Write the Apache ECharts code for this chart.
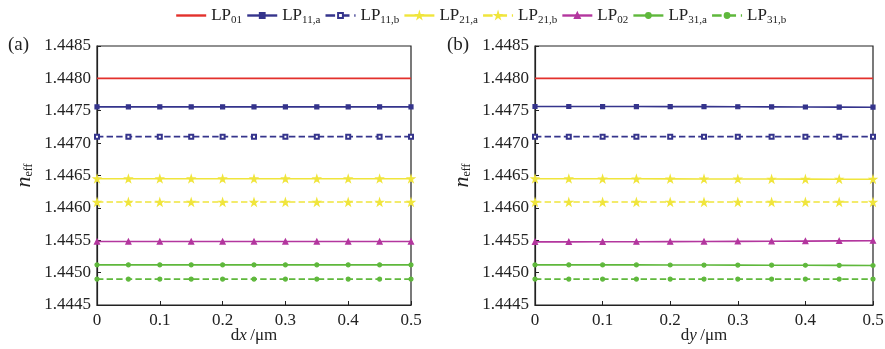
<!DOCTYPE html>
<html>
<head>
<meta charset="utf-8">
<script src="https://cdn.jsdelivr.net/npm/echarts@6/dist/echarts.min.js"></script>
<style>
  html, body { margin: 0; padding: 0; background: #fff; }
  #main { width: 885px; height: 349px; }
</style>
</head>
<body>
<div id="main"></div>
<script>
// offsets dx / dy (um)
var shift = [0, 0.05, 0.1, 0.15, 0.2, 0.25, 0.3, 0.35, 0.4, 0.45, 0.5];
var xTicks = ['0', '0.1', '0.2', '0.3', '0.4', '0.5'];
var modes = ['LP01', 'LP11,a', 'LP11,b', 'LP21,a', 'LP21,b', 'LP02', 'LP31,a', 'LP31,b'];

// panel (a): n_eff vs dx
var a_LP01  = [1.44800, 1.44800, 1.44800, 1.44800, 1.44800, 1.44800, 1.44800, 1.44800, 1.44800, 1.44800, 1.44800];
var a_LP11a = [1.44756, 1.44756, 1.44756, 1.44756, 1.44756, 1.44756, 1.44756, 1.44756, 1.44756, 1.44756, 1.44756];
var a_LP11b = [1.44710, 1.44710, 1.44710, 1.44710, 1.44710, 1.44710, 1.44710, 1.44710, 1.44710, 1.44710, 1.44710];
var a_LP21a = [1.44645, 1.44645, 1.44645, 1.44645, 1.44645, 1.44645, 1.44645, 1.44645, 1.44645, 1.44645, 1.44645];
var a_LP21b = [1.44609, 1.44609, 1.44609, 1.44609, 1.44609, 1.44609, 1.44609, 1.44609, 1.44609, 1.44609, 1.44609];
var a_LP02  = [1.44548, 1.44548, 1.44548, 1.44548, 1.44548, 1.44548, 1.44548, 1.44548, 1.44548, 1.44548, 1.44548];
var a_LP31a = [1.44512, 1.44512, 1.44512, 1.44512, 1.44512, 1.44512, 1.44512, 1.44512, 1.44512, 1.44512, 1.44512];
var a_LP31b = [1.44490, 1.44490, 1.44490, 1.44490, 1.44490, 1.44490, 1.44490, 1.44490, 1.44490, 1.44490, 1.44490];

// panel (b): n_eff vs dy
var b_LP01  = [1.44800, 1.44800, 1.44800, 1.44800, 1.44800, 1.44800, 1.44800, 1.44800, 1.44800, 1.44800, 1.44800];
var b_LP11a = [1.447566, 1.447566, 1.447565, 1.447565, 1.447564, 1.447563, 1.447562, 1.447560, 1.447558, 1.447556, 1.447555];
var b_LP11b = [1.44710, 1.44710, 1.44710, 1.44710, 1.44710, 1.44710, 1.44710, 1.44710, 1.44710, 1.44710, 1.44710];
var b_LP21a = [1.446450, 1.446450, 1.446449, 1.446449, 1.446448, 1.446447, 1.446446, 1.446445, 1.446444, 1.446443, 1.446442];
var b_LP21b = [1.44609, 1.44609, 1.44609, 1.44609, 1.44609, 1.44609, 1.44609, 1.44609, 1.44609, 1.44609, 1.44609];
var b_LP02  = [1.445475, 1.445475, 1.445476, 1.445477, 1.445478, 1.445480, 1.445482, 1.445484, 1.445487, 1.445490, 1.445493];
var b_LP31a = [1.445120, 1.445120, 1.445119, 1.445119, 1.445118, 1.445117, 1.445116, 1.445115, 1.445114, 1.445112, 1.445110];
var b_LP31b = [1.44490, 1.44490, 1.44490, 1.44490, 1.44490, 1.44490, 1.44490, 1.44490, 1.44490, 1.44490, 1.44490];

var panelA = [a_LP01, a_LP11a, a_LP11b, a_LP21a, a_LP21b, a_LP02, a_LP31a, a_LP31b];
var panelB = [b_LP01, b_LP11a, b_LP11b, b_LP21a, b_LP21b, b_LP02, b_LP31a, b_LP31b];

var star = 'path://M50,0 L61,35 L98,35 L68,57 L79,91 L50,70 L21,91 L32,57 L2,35 L39,35 Z';
var styles = [
    { color: '#e3312c', symbol: 'none', dash: 'solid' },
    { color: '#35348c', symbol: 'rect', dash: 'solid', size: 4 },
    { color: '#35348c', symbol: 'emptyRect', dash: 'dashed', size: 4 },
    { color: '#f0e53c', symbol: star, dash: 'solid', size: 7 },
    { color: '#f0e53c', symbol: star, dash: 'dashed', size: 7 },
    { color: '#b3369e', symbol: 'triangle', dash: 'solid', size: 5 },
    { color: '#5fb83c', symbol: 'circle', dash: 'solid', size: 4 },
    { color: '#5fb83c', symbol: 'circle', dash: 'dashed', size: 4 }
];

var serif = '"Liberation Serif", "DejaVu Serif", serif';

function pairs(vals) {
    return shift.map(function (x, i) { return [x, vals[i]]; });
}

var series = [];
[panelA, panelB].forEach(function (panel, p) {
    panel.forEach(function (vals, k) {
        var st = styles[k];
        series.push({
            name: modes[k],
            type: 'line',
            xAxisIndex: p,
            yAxisIndex: p,
            data: pairs(vals),
            symbol: st.symbol,
            symbolSize: st.size || 4,
            showSymbol: st.symbol != 'none',
            color: st.color,
            lineStyle: { width: 1.6, type: st.dash, color: st.color },
            itemStyle: { color: st.color, borderColor: st.color, borderWidth: 1.2 },
            animation: false
        });
    });
});

var legendData = modes.map(function (m, k) {
    if (k == 0) return { name: m, itemStyle: { opacity: 0 } };
    return { name: m };
});

function xAxis(idx, letter) {
    return {
        type: 'value', gridIndex: idx, min: 0, max: 0.5, interval: 0.1,
        name: '{r|d}{i|' + letter + '} {r|/μm}', nameLocation: 'middle', nameGap: 22,
        nameMoveOverlap: false,
        nameTextStyle: {
            rich: {
                r: { fontFamily: serif, fontSize: 17, color: '#222' },
                i: { fontFamily: serif, fontSize: 17, fontStyle: 'italic', color: '#222' }
            }
        },
        axisLine: { lineStyle: { color: '#222', width: 1.2 } },
        axisTick: { inside: true, length: 4, lineStyle: { color: '#222' } },
        axisLabel: {
            fontFamily: serif, fontSize: 17, color: '#222', margin: 7,
            formatter: function (v) { return xTicks[Math.round(v * 10)]; }
        },
        splitLine: { show: false }
    };
}

function yAxis(idx) {
    return {
        type: 'value', gridIndex: idx, min: 1.4445, max: 1.4485, interval: 0.0005,
        name: '{i|n}{s|eff}', nameLocation: 'middle', nameGap: 62, nameRotate: 90,
        nameMoveOverlap: false,
        nameTextStyle: {
            rich: {
                i: { fontFamily: serif, fontSize: 22, fontStyle: 'italic', color: '#222' },
                s: { fontFamily: serif, fontSize: 12, color: '#222', padding: [10, 0, 0, 0] }
            }
        },
        axisLine: { show: true, lineStyle: { color: '#222', width: 1.2 } },
        axisTick: { inside: true, length: 4, lineStyle: { color: '#222' } },
        axisLabel: {
            fontFamily: serif, fontSize: 17, color: '#222', margin: 6,
            formatter: function (v) { return v.toFixed(4); }
        },
        splitLine: { show: false }
    };
}

var chart = echarts.init(document.getElementById('main'));
chart.setOption({
    backgroundColor: '#fff',
    animation: false,
    legend: {
        data: legendData,
        top: 2,
        left: 170,
        itemWidth: 30,
        itemHeight: 6,
        itemGap: 4,
        lineStyle: { width: 2.4 },
        textStyle: {
            fontFamily: serif, fontSize: 17, color: '#222',
            rich: {
                m: { fontFamily: serif, fontSize: 17, color: '#222' },
                s: { fontFamily: serif, fontSize: 11, color: '#222', padding: [10, 0, 0, 0] }
            }
        },
        formatter: function (name) {
            return '{m|LP}{s|' + name.slice(2) + '}';
        }
    },
    grid: [
        { left: 97, right: 474, top: 46, bottom: 44, outerBoundsMode: 'none', show: true, borderColor: '#222', borderWidth: 1.2 },
        { left: 535, right: 12, top: 46, bottom: 44, outerBoundsMode: 'none', show: true, borderColor: '#222', borderWidth: 1.2 }
    ],
    xAxis: [xAxis(0, 'x'), xAxis(1, 'y')],
    yAxis: [yAxis(0), yAxis(1)],
    graphic: [
        { type: 'text', left: 8, top: 36, style: { text: '(a)', font: '19px ' + serif, fill: '#222' } },
        { type: 'text', left: 447, top: 36, style: { text: '(b)', font: '19px ' + serif, fill: '#222' } }
    ],
    series: series
});
</script>
</body>
</html>
